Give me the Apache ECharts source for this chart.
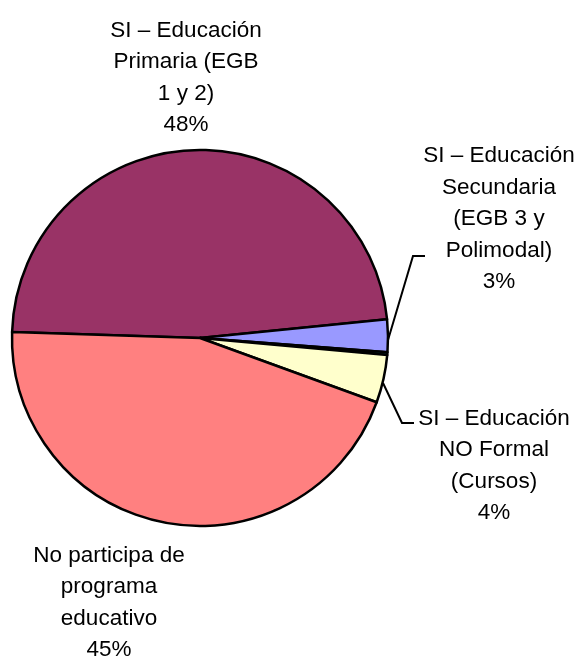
<!DOCTYPE html>
<html>
<head>
    <meta charset="utf-8">
    <title>Participación en programas educativos</title>
    <script src="https://cdn.jsdelivr.net/npm/echarts@6/dist/echarts.min.js"></script>
    <style>
        html, body { margin: 0; padding: 0; background: #fff; }
    </style>
</head>
<body>
    <div id="chart" style="width: 583px; height: 657px;"></div>
    <script type="text/javascript">
        // Categories and values (percent)
        var categories = [
            'SI – Educación\nPrimaria (EGB\n1 y 2)',
            'SI – Educación\nSecundaria\n(EGB 3 y\nPolimodal)',
            'SI – Otros',
            'SI – Educación\nNO Formal\n(Cursos)',
            'No participa de\nprograma\neducativo'
        ];
        var values = [47.9, 2.8, 0.25, 4.1, 44.95];
        var colors = ['#993366', '#9999FF', '#008080', '#FFFFCC', '#FF8080'];
        var showLabel = [true, true, false, true, true];
        var showLine = [false, true, false, true, false];

        // label block placement (middle of text block) for each slice
        var labelPos = [
            { x: 186, y: 78 },
            { x: 499, y: 219 },
            { x: 499, y: 219 },
            { x: 494, y: 466 },
            { x: 109, y: 603 }
        ];
        var linePoints = {
            1: [[388, 340], [413, 256], [425, 256]],
            3: [[383, 383], [402, 423], [414, 423]]
        };

        var chartDom = document.getElementById('chart');
        var myChart = echarts.init(chartDom);

        var data = categories.map(function (name, i) {
            return {
                name: name,
                value: values[i],
                itemStyle: { color: colors[i] },
                label: { show: showLabel[i] },
                labelLine: { show: showLine[i] }
            };
        });

        var option = {
            animation: false,
            series: [{
                type: 'pie',
                center: [200, 338],
                radius: 188,
                startAngle: 178.2,
                clockwise: true,
                percentPrecision: 0,
                data: data,
                itemStyle: {
                    borderColor: '#000',
                    borderWidth: 2.5
                },
                label: {
                    position: 'outside',
                    alignTo: 'none',
                    overflow: 'none',
                    formatter: '{b}\n{d}%',
                    fontFamily: "'Liberation Sans', Arial, sans-serif",
                    fontSize: 22.5,
                    lineHeight: 31.5,
                    color: '#000',
                    align: 'center'
                },
                labelLine: {
                    lineStyle: { color: '#000', width: 2 }
                },
                labelLayout: function (params) {
                    var p = labelPos[params.dataIndex];
                    var out = {
                        x: p.x,
                        y: p.y,
                        align: 'center',
                        verticalAlign: 'middle'
                    };
                    if (linePoints[params.dataIndex]) {
                        out.labelLinePoints = linePoints[params.dataIndex];
                    }
                    return out;
                }
            }]
        };

        myChart.setOption(option);
    </script>
</body>
</html>
